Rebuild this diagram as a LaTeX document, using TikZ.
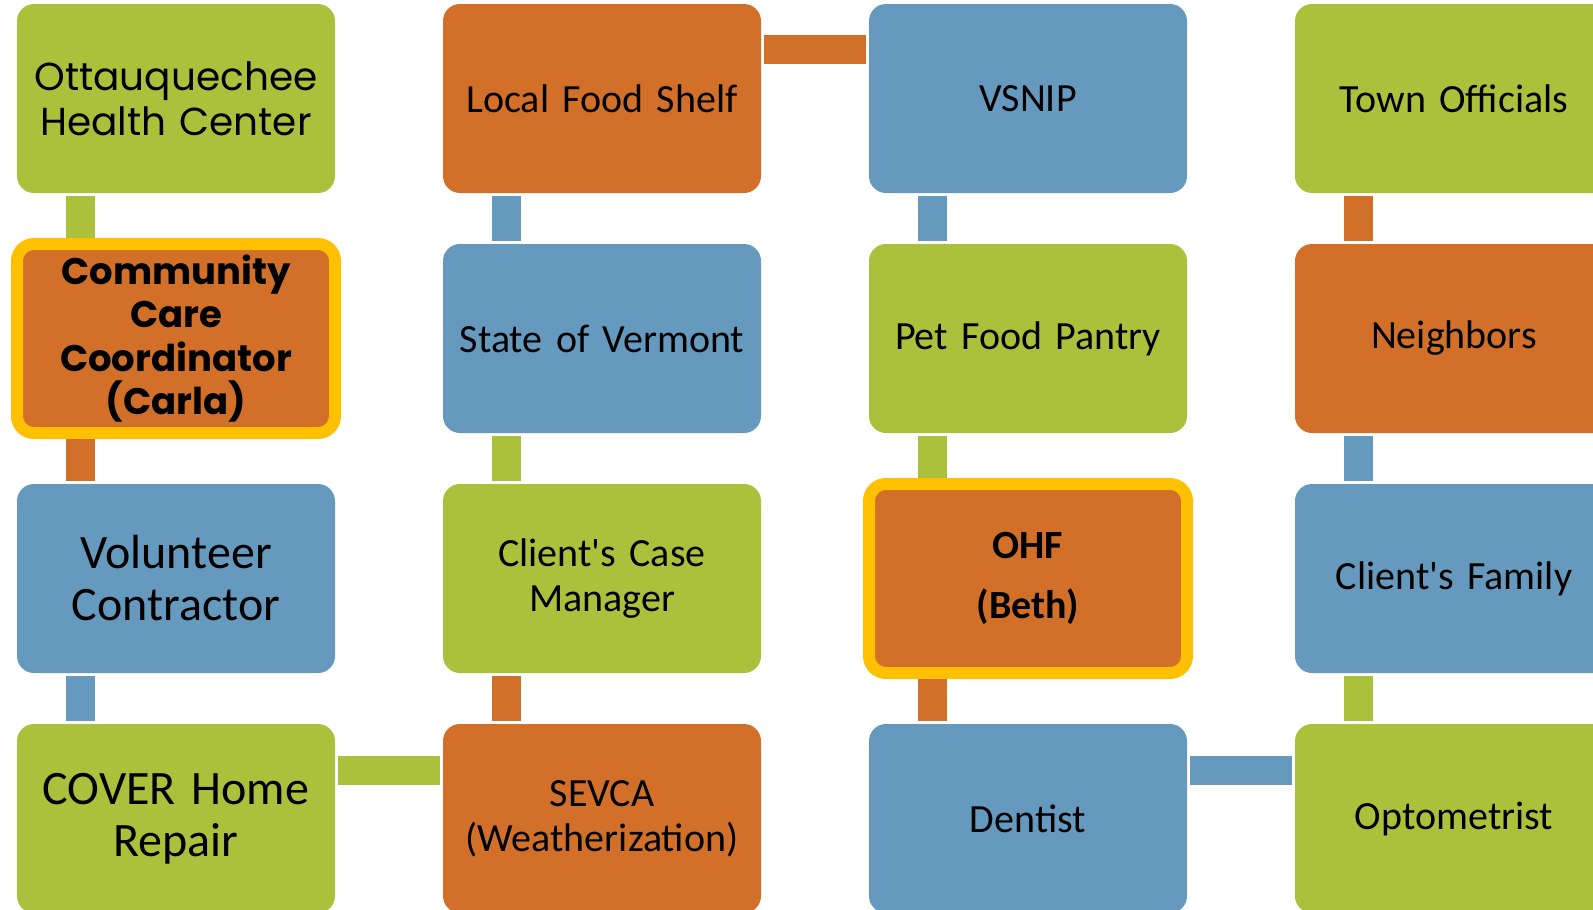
\documentclass[tikz,border=0pt]{standalone}
\usepackage{fontspec}
\newfontfamily\calfont{Carlito}
\newfontfamily\geofont{Poppins}
\newcommand\tightwords{\fontdimen2\font=0.14em\relax}
\definecolor{ohgreen}{HTML}{ABC03B}
\definecolor{ohorange}{HTML}{D2702A}
\definecolor{ohblue}{HTML}{6599BD}
\definecolor{ohgold}{HTML}{FFC000}
\tikzset{
  agency/.style = {rounded corners=17pt, minimum width=318pt, minimum height=189pt,
    inner sep=0pt, outer sep=0pt, text width=306pt, align=center,
    font=\calfont\fontsize{40}{45}\selectfont\tightwords},
  lead/.style = {agency, draw=ohgold, line width=12pt},
  link/.style = {line width=29pt, shorten <=3pt, shorten >=3pt}
}

\begin{document}
\begin{tikzpicture}[x=1pt,y=-1pt]
  \clip (0,0) rectangle (1593,910);
  % first column
  \node[agency,fill=ohgreen,font=\geofont\fontsize{39}{45}\selectfont] (ohc) at (176,98.5) {Ottauquechee\\Health Center};
  \node[lead,fill=ohorange,font=\geofont\bfseries\fontsize{37}{43.5}\selectfont] (ccc) at (176,338.5) {Community\\Care\\Coordinator\\(Carla)};
  \node[agency,fill=ohblue,font=\calfont\fontsize{48}{52}\selectfont\tightwords] (vol) at (176,578.5) {Volunteer\\Contractor};
  \node[agency,fill=ohgreen,font=\calfont\fontsize{48}{52}\selectfont\tightwords] (cover) at (176,818.5) {COVER Home\\Repair};
  % second column
  \node[agency,fill=ohorange] (lfs) at (602,98.5) {Local Food Shelf};
  \node[agency,fill=ohblue] (sov) at (602,338.5) {State of Vermont};
  \node[agency,fill=ohgreen] (ccm) at (602,578.5) {Client's Case\\Manager};
  \node[agency,fill=ohorange] (sevca) at (602,818.5) {SEVCA\\(Weatherization)};
  % third column
  \node[agency,fill=ohblue] (vsnip) at (1028,98.5) {VSNIP};
  \node[agency,fill=ohgreen] (pfp) at (1028,338.5) {Pet Food Pantry};
  \node[lead,fill=ohorange,font=\calfont\bfseries\fontsize{40}{60}\selectfont] (ohf) at (1028,578.5) {OHF\\(Beth)};
  \node[agency,fill=ohblue] (dent) at (1028,818.5) {Dentist};
  % fourth column
  \node[agency,fill=ohgreen] (town) at (1454,98.5) {Town Officials};
  \node[agency,fill=ohorange] (nbr) at (1454,338.5) {Neighbors};
  \node[agency,fill=ohblue] (fam) at (1454,578.5) {Client's Family};
  \node[agency,fill=ohgreen] (opt) at (1454,818.5) {Optometrist};

  % snake of links
  \draw[link,ohgreen,shorten >=6pt] ([xshift=63.5pt]ohc.south west) -- ([xshift=63.5pt]ccc.north west);
  \draw[link,ohorange,shorten <=6pt] ([xshift=63.5pt]ccc.south west) -- ([xshift=63.5pt]vol.north west);
  \draw[link,ohblue] ([xshift=63.5pt]vol.south west) -- ([xshift=63.5pt]cover.north west);
  \draw[link,ohgreen] ([yshift=-46pt]cover.north east) -- ([yshift=-46pt]sevca.north west);
  \draw[link,ohorange] ([xshift=63.5pt]sevca.north west) -- ([xshift=63.5pt]ccm.south west);
  \draw[link,ohgreen] ([xshift=63.5pt]ccm.north west) -- ([xshift=63.5pt]sov.south west);
  \draw[link,ohblue] ([xshift=63.5pt]sov.north west) -- ([xshift=63.5pt]lfs.south west);
  \draw[link,ohorange] ([yshift=-45pt]lfs.north east) -- ([yshift=-45pt]vsnip.north west);
  \draw[link,ohblue] ([xshift=63.5pt]vsnip.south west) -- ([xshift=63.5pt]pfp.north west);
  \draw[link,ohgreen,shorten >=6pt] ([xshift=63.5pt]pfp.south west) -- ([xshift=63.5pt]ohf.north west);
  \draw[link,ohorange,shorten <=6pt] ([xshift=63.5pt]ohf.south west) -- ([xshift=63.5pt]dent.north west);
  \draw[link,ohblue] ([yshift=-46pt]dent.north east) -- ([yshift=-46pt]opt.north west);
  \draw[link,ohgreen] ([xshift=63.5pt]opt.north west) -- ([xshift=63.5pt]fam.south west);
  \draw[link,ohblue] ([xshift=63.5pt]fam.north west) -- ([xshift=63.5pt]nbr.south west);
  \draw[link,ohorange] ([xshift=63.5pt]nbr.north west) -- ([xshift=63.5pt]town.south west);
\end{tikzpicture}
\end{document}
